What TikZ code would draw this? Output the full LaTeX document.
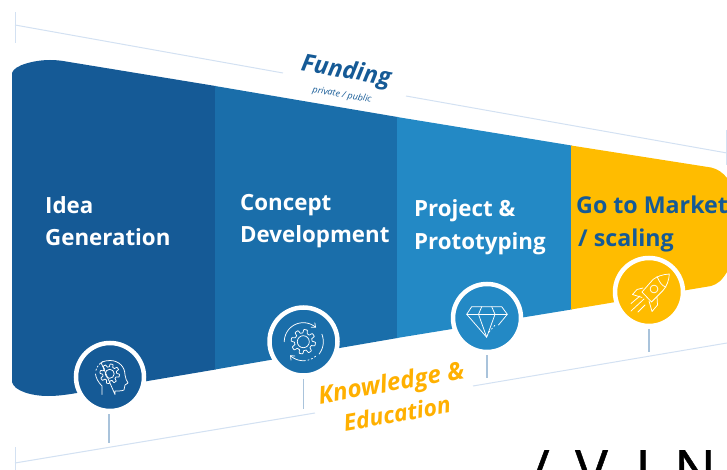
\documentclass[tikz,border=0pt]{standalone}
\usepackage{fontspec}
\setmainfont{Open Sans}
\newfontfamily\bigfont{Open Sans}[FakeBold=0.8]
\usetikzlibrary{arrows.meta}
\definecolor{cA}{HTML}{155A96}
\definecolor{cB}{HTML}{1A6EAA}
\definecolor{cC}{HTML}{2389C5}
\definecolor{cD}{HTML}{FFBC00}
\definecolor{cT}{HTML}{FFB000}
\definecolor{cTick}{HTML}{A9C3DB}
\definecolor{cLine}{HTML}{D3E1F2}
\tikzset{
  lightline/.style={cLine,line width=1pt},
  tickline/.style={cTick,line width=1.4pt},
  ring/.style={circle,draw=white,line width=4.5pt,minimum size=68pt,inner sep=0pt},
  icon/.style={white,line width=0.75pt,line join=round,line cap=round},
  headtext/.style={anchor=base west,inner sep=0pt,white,font=\fontsize{22.3}{26}\selectfont\bfseries},
  headtextb/.style={anchor=base west,inner sep=0pt,cA,font=\fontsize{23.2}{26}\selectfont\bfseries},
  bigtext/.style={anchor=base,black,font=\bigfont\fontsize{55}{60}\selectfont},
  knowtext/.style={cT,font=\fontsize{24.3}{26}\selectfont\bfseries\itshape,rotate=10},
  edutext/.style={cT,font=\fontsize{23}{26}\selectfont\bfseries\itshape,rotate=10}
}
\newcommand{\gearicon}[4]{%
  \draw[icon] plot[domain=0:360,samples=193,variable=\t]
   ({#1+(#3+#4*max(-1,min(1,2.5*sin(8*\t))))*cos(\t)},{#2+(#3+#4*max(-1,min(1,2.5*sin(8*\t))))*sin(\t)}) -- cycle;}
\newcommand{\arcicon}[6][]{%
  \draw[icon,#1] plot[domain=#5:#6,samples=30,variable=\t] ({#2+#4*cos(\t)},{#3+#4*sin(\t)});}
\begin{document}
\begin{tikzpicture}[x=1pt,y=-1pt]
\useasboundingbox (0,0) rectangle (727,470);
\clip (0,0) rectangle (727,470);
% guide lines
\coordinate (tlA) at (15,12); \coordinate (tlB) at (15,43);
\coordinate (tA) at (15,25); \coordinate (tB) at (283,73);
\coordinate (tC) at (406,96); \coordinate (tD) at (727,153);
\coordinate (trA) at (726.5,130); \coordinate (trB) at (726.5,165);
\coordinate (blA) at (15,447); \coordinate (blB) at (15,470);
\coordinate (bA) at (15,463); \coordinate (bB) at (315,413);
\coordinate (bC) at (473,386); \coordinate (bD) at (727,343);
\draw[lightline] (tlA) -- (tlB);
\draw[lightline] (tA) -- (tB);
\draw[lightline] (tC) -- (tD);
\draw[lightline] (trA) -- (trB);
\draw[lightline] (blA) -- (blB);
\draw[lightline] (bA) -- (bB);
\draw[lightline] (bC) -- (bD);
% bands
\fill[cA] (12,382) -- (12,73) .. controls (14,65) and (35,60) .. (50,60)
  .. controls (55,60) and (60,60.5) .. (63,61) -- (215.5,86) -- (215.5,369.5)
  -- (77,393) .. controls (62,395.5) and (55,396) .. (48,396) .. controls (32,396) and (14,391) .. (12,382) -- cycle;
\fill[cB] (215,86) -- (397.5,117) -- (397.5,338) -- (215,369.5) -- cycle;
\fill[cC] (397,117) -- (571.5,145.5) -- (571.5,309.5) -- (397,338) -- cycle;
\fill[cD] (571,145.5) -- (711,167.5) .. controls (718,169) and (723,173) .. (727,178)
  -- (727,272) .. controls (722,280) and (718,284) .. (711,286) -- (571,309.5) -- cycle;
% circles
\node[ring,fill=cA] (c1) at (110,377) {};
\node[ring,fill=cB] (c2) at (303.5,341.5) {};
\node[ring,fill=cC] (c3) at (487,318) {};
\node[ring,fill=cD] (c4) at (649,292) {};
% ticks
\coordinate (k1a) at (109,414); \coordinate (k1b) at (109,443);
\coordinate (k2a) at (303.5,379); \coordinate (k2b) at (303.5,409);
\coordinate (k3a) at (487,355); \coordinate (k3b) at (487,378);
\coordinate (k4a) at (649,329); \coordinate (k4b) at (649,352);
\draw[tickline] (k1a) -- (k1b);
\draw[tickline] (k2a) -- (k2b);
\draw[tickline] (k3a) -- (k3b);
\draw[tickline] (k4a) -- (k4b);
% head icon
\gearicon{109.7}{373.8}{8.4}{1.4}
\draw[icon] (109.7,373.8) circle[radius=4.5pt];
\draw[icon] (102,394.5) -- (102,386) .. controls (98,382) and (96,378) .. (95.5,374)
  (101,362.5) .. controls (104,361) and (107,360.5) .. (110,360.5) .. controls (119,360.5) and (125,367) .. (125,375)
  .. controls (125,378) and (127,381) .. (128,383) -- (125,385) -- (124,390) .. controls (122,391) and (118,391) .. (115,391) -- (115,394.5) -- cycle;
\arcicon[dash pattern=on 1.5pt off 2pt]{109.5}{374}{14}{195}{250}
% gear + arrows icon
\gearicon{303.3}{341.7}{10.5}{1.7}
\draw[icon] (303.3,341.7) circle[radius=6pt];
\arcicon[-{Straight Barb[length=3.5pt,width=6pt]}]{303.3}{341.7}{19}{180}{312}
\arcicon{303.3}{341.7}{20}{-22}{38}
\arcicon[dash pattern=on 1.5pt off 2.2pt]{303.3}{341.7}{19}{50}{76}
\arcicon[-{Straight Barb[length=3.5pt,width=6pt]}]{303.3}{341.7}{19}{84}{134}
% diamond icon
\draw[icon] (486.7,337.3) -- (466.7,314.3) -- (471.7,306.7) -- (501.7,306.7) -- (507.3,314.3) -- (498.5,325);
\draw[icon] (466.7,314.3) -- (507.3,314.3);
\draw[icon] (478.5,314.3) -- (481.7,306.7) (495,314.3) -- (491.7,306.7);
\draw[icon] (478.5,314.3) -- (486.7,337.3) -- (495,314.3);
\draw[icon,dash pattern=on 1.5pt off 2.2pt] (489,332) -- (496,324);
% rocket icon
\draw[icon] (669.3,274) .. controls (662,274.5) and (657,276.5) .. (653,279.5) -- (642,292) -- (651.5,302)
  -- (663,290.5) .. controls (667,286) and (669,280) .. (669.3,274) -- cycle;
\draw[icon] (657,276.5) .. controls (660,283) and (662,286) .. (666,287);
\draw[icon] (654,289) circle[radius=3.9pt];
\draw[icon] (643,288) -- (637,289.5) -- (632.5,294.5) -- (642,297.5);
\draw[icon] (657,297) -- (657.5,305) -- (652,311.5) -- (649,301);
\draw[icon] (631,303.5) -- (640,296);
\draw[icon] (631,311) -- (644,299);
\draw[icon] (638,312) -- (645,305);
% texts
\node[headtext] (t1a) at (45,214) {Idea};
\node[headtext] (t1b) at (45,245) {Generation};
\node[headtext] (t2a) at (240,211) {Concept};
\node[headtext] (t2b) at (240,242) {Development};
\node[headtext] (t3a) at (414,217) {Project \&};
\node[headtext] (t3b) at (414,249) {Prototyping};
\node[headtextb] (t4a) at (576,214) {Go to Market};
\node[headtextb] (t4b) at (578,246) {/ scaling};
\node[text=cA,font=\fontsize{24}{26}\selectfont\bfseries\itshape,rotate=-10] (f1) at (346,72) {Funding};
\node[text=cA,font=\fontsize{9}{10}\selectfont\itshape,rotate=-10] (f2) at (342,95) {private / public};
\node[knowtext] (k1) at (391.5,385) {Knowledge \&};
\node[edutext] (k2) at (397,413.5) {Education};
\node[bigtext] (b1) at (539.5,489.5) {/};
\node[bigtext] (b2) at (591.5,489.5) {V};
\node[bigtext] (b3) at (643,489.5) {I};
\node[bigtext] (b4) at (695,489.5) {N};
\end{tikzpicture}
\end{document}
